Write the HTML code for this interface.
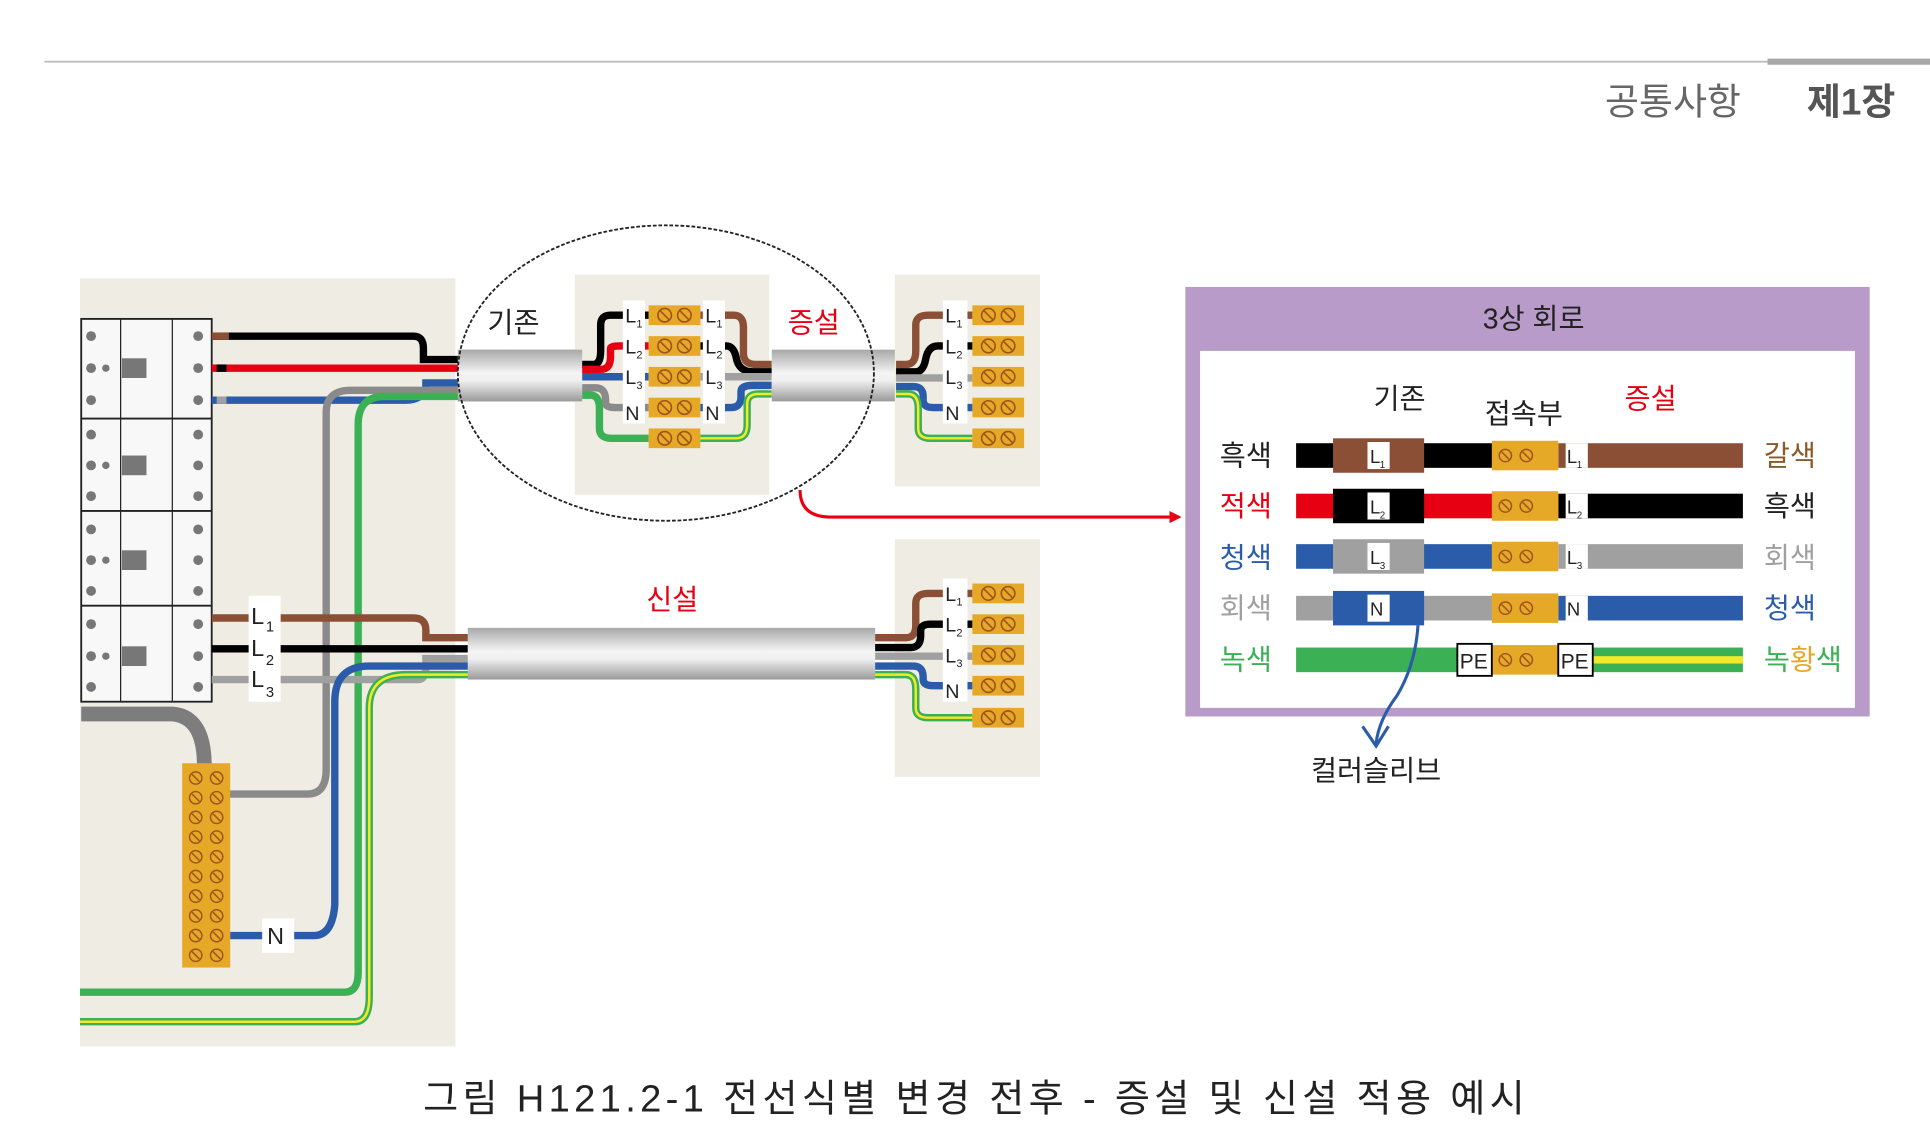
<!DOCTYPE html>
<html><head><meta charset="utf-8">
<style>
html,body{margin:0;padding:0;background:#fff;}
svg{display:block}
text{font-family:"Liberation Sans","Noto Sans CJK KR","Noto Sans CJK SC",sans-serif;}
</style></head><body>
<svg width="1930" height="1140" viewBox="0 0 1568 926" xmlns="http://www.w3.org/2000/svg">
<defs>
<g id="t"><rect x="0" y="0" width="42" height="16" fill="#e6a927"/>
<circle cx="13" cy="8" r="5.5" fill="none" stroke="#a0521d" stroke-width="1.3"/><line x1="9.5" y1="4.5" x2="16.5" y2="11.5" stroke="#a0521d" stroke-width="1.3"/>
<circle cx="29" cy="8" r="5.5" fill="none" stroke="#a0521d" stroke-width="1.3"/><line x1="25.5" y1="4.5" x2="32.5" y2="11.5" stroke="#a0521d" stroke-width="1.3"/></g>
<g id="ts"><circle cx="7" cy="7" r="5" fill="none" stroke="#a0521d" stroke-width="1.2"/><line x1="4" y1="4" x2="10" y2="10" stroke="#a0521d" stroke-width="1.2"/>
<circle cx="24" cy="7" r="5" fill="none" stroke="#a0521d" stroke-width="1.2"/><line x1="21" y1="4" x2="27" y2="10" stroke="#a0521d" stroke-width="1.2"/></g>
<linearGradient id="cab" x1="0" y1="0" x2="0" y2="1">
<stop offset="0" stop-color="#a8a8a8"/><stop offset="0.45" stop-color="#f4f4f4"/><stop offset="0.6" stop-color="#f0f0f0"/><stop offset="1" stop-color="#9a9a9a"/></linearGradient>
<marker id="ar" markerWidth="10" markerHeight="10" refX="8" refY="5" orient="auto" markerUnits="userSpaceOnUse"><path d="M0,0 L10,5 L0,10 z" fill="#e60012"/></marker>
</defs>

<!-- header -->
<line x1="36" y1="50" x2="1436" y2="50" stroke="#bdbdbd" stroke-width="1.5"/>
<line x1="1436" y1="50" x2="1568" y2="50" stroke="#a8a8a8" stroke-width="5"/>
<text x="1304" y="93" font-size="30" fill="#666">공통사항</text>
<text x="1468" y="93" font-size="30" font-weight="bold" fill="#555">제1장</text>

<!-- left panel -->
<rect x="65" y="226" width="305" height="624" fill="#efece3"/>
<!-- breaker -->
<rect x="66" y="259" width="106" height="311" fill="#f8f8f8" stroke="#222" stroke-width="1.5"/>
<g stroke="#222" stroke-width="1"><line x1="98" y1="259" x2="98" y2="570"/><line x1="140" y1="259" x2="140" y2="570"/>
<line x1="66" y1="340" x2="172" y2="340" stroke-width="1.5"/><line x1="66" y1="415" x2="172" y2="415" stroke-width="1.5"/><line x1="66" y1="492" x2="172" y2="492" stroke-width="1.5"/></g>
<g fill="#777">
<circle cx="74" cy="273" r="4"/><circle cx="74" cy="299" r="4"/><circle cx="86" cy="299" r="3"/><circle cx="74" cy="325" r="4"/><rect x="99" y="291" width="20" height="16"/><circle cx="161" cy="273" r="4"/><circle cx="161" cy="299" r="4"/><circle cx="161" cy="325" r="4"/>
<circle cx="74" cy="353" r="4"/><circle cx="74" cy="378" r="4"/><circle cx="86" cy="378" r="3"/><circle cx="74" cy="403" r="4"/><rect x="99" y="370" width="20" height="16"/><circle cx="161" cy="353" r="4"/><circle cx="161" cy="378" r="4"/><circle cx="161" cy="403" r="4"/>
<circle cx="74" cy="430" r="4"/><circle cx="74" cy="455" r="4"/><circle cx="86" cy="455" r="3"/><circle cx="74" cy="480" r="4"/><rect x="99" y="447" width="20" height="16"/><circle cx="161" cy="430" r="4"/><circle cx="161" cy="455" r="4"/><circle cx="161" cy="480" r="4"/>
<circle cx="74" cy="507" r="4"/><circle cx="74" cy="533" r="4"/><circle cx="86" cy="533" r="3"/><circle cx="74" cy="558" r="4"/><rect x="99" y="525" width="20" height="16"/><circle cx="161" cy="507" r="4"/><circle cx="161" cy="533" r="4"/><circle cx="161" cy="558" r="4"/>
</g>
<path d="M66,580 H140 Q166,582 166,622" fill="none" stroke="#7d7d7d" stroke-width="12"/>

<g fill="none" stroke-width="6">
<path d="M172,273 H336 Q344,273 344,283 V292 H374" stroke="#000"/>
<path d="M172,299 H374" stroke="#e60012"/>
<path d="M172,325 H330 Q342,325 346,316 V311 H374" stroke="#2a5caa"/>
<path d="M182,645 H250 Q265,645 265,625 V335 Q265,317 285,317 H374" stroke="#8a8a8a"/>
<path d="M65,806 H280 Q291,806 291,790 V345 Q291,322 312,322 H374" stroke="#3cb054"/>
</g>
<rect x="172" y="270" width="14" height="6" fill="#8b4f36"/>
<rect x="176" y="296" width="8" height="6" fill="#000"/>
<rect x="176" y="322" width="8" height="6" fill="#a0a0a0"/>

<g fill="none" stroke-width="6">
<path d="M172,502 H336 Q346,502 346,512 V518 H382" stroke="#8b4f36"/>
<path d="M172,527 H382" stroke="#000"/>
<path d="M172,552 H340 Q346,552 346,540 V535 H382" stroke="#a0a0a0"/>
<path d="M187,760 H255 Q270,760 272,735 V570 Q272,541 300,541 H382" stroke="#2a5caa"/>
<path d="M65,830 H288 Q300,830 300,810 V575 Q300,548 330,548 H382" stroke="#3cb054"/>
<path d="M65,830 H288 Q300,830 300,810 V575 Q300,548 330,548 H382" stroke="#f2e92a" stroke-width="2"/>
</g>
<g font-size="19" fill="#222">
<rect x="202" y="484" width="26" height="86" fill="#fff"/>
<text x="204" y="507">L</text><text x="216" y="513" font-size="12">1</text>
<text x="204" y="533">L</text><text x="216" y="540" font-size="12">2</text>
<text x="204" y="558">L</text><text x="216" y="566" font-size="12">3</text>
<rect x="213" y="746" width="26" height="28" fill="#fff"/><text x="217" y="767">N</text>
</g>
<rect x="148" y="620" width="39" height="166" fill="#e6a927"/>
<use href="#ts" x="152" y="625"/><use href="#ts" x="152" y="641"/><use href="#ts" x="152" y="657"/><use href="#ts" x="152" y="673"/><use href="#ts" x="152" y="689"/>
<use href="#ts" x="152" y="705"/><use href="#ts" x="152" y="721"/><use href="#ts" x="152" y="737"/><use href="#ts" x="152" y="753"/><use href="#ts" x="152" y="769"/>

<rect x="372" y="284" width="101" height="42" fill="url(#cab)"/>
<text x="396" y="270" font-size="23" fill="#222">기존</text>

<rect x="467" y="223" width="158" height="179" fill="#efece3"/>
<rect x="372" y="284" width="101" height="42" fill="url(#cab)"/>
<g fill="none" stroke-width="6">
<path d="M473,296 H482 Q488,296 488,285 V264 Q488,256 496,256 H527" stroke="#000"/>
<path d="M473,300 H488 Q496,300 496,290 V283 Q496,281 504,281 H527" stroke="#e60012"/>
<path d="M473,306 H527" stroke="#2a5caa"/>
<path d="M473,315 H484 Q492,315 492,325 V327 Q492,331 500,331 H527" stroke="#8a8a8a"/>
<path d="M473,321 H480 Q487,321 487,332 V348 Q487,356 497,356 H527" stroke="#3cb054"/>
<path d="M569,256 H596 Q604,256 604,266 V287 Q604,296 614,296 H627" stroke="#8b4f36"/>
<path d="M569,281 H590 Q596,281 598,290 Q600,302 612,302 H627" stroke="#000"/>
<path d="M569,306 H627" stroke="#a0a0a0"/>
<path d="M569,331 H594 Q602,331 602,322 V318 Q602,313 612,313 H627" stroke="#2a5caa"/>
<path d="M569,356 H598 Q607,356 607,345 V328 Q607,320 616,320 H627" stroke="#3cb054"/>
<path d="M569,356 H598 Q607,356 607,345 V328 Q607,320 616,320 H627" stroke="#f2e92a" stroke-width="2"/>
</g>
<g font-size="16" fill="#222">
<rect x="506" y="244" width="18" height="100" fill="#fff"/>
<rect x="571" y="244" width="18" height="100" fill="#fff"/>
<text x="508" y="262">L</text><text x="517" y="266" font-size="9">1</text>
<text x="508" y="287">L</text><text x="517" y="291" font-size="9">2</text>
<text x="508" y="312">L</text><text x="517" y="316" font-size="9">3</text>
<text x="508" y="341">N</text>
<text x="573" y="262">L</text><text x="582" y="266" font-size="9">1</text>
<text x="573" y="287">L</text><text x="582" y="291" font-size="9">2</text>
<text x="573" y="312">L</text><text x="582" y="316" font-size="9">3</text>
<text x="573" y="341">N</text>
</g>
<use href="#t" x="527" y="248"/><use href="#t" x="527" y="273"/><use href="#t" x="527" y="298"/><use href="#t" x="527" y="323"/><use href="#t" x="527" y="348"/>

<rect x="627" y="284" width="101" height="42" fill="url(#cab)"/>
<text x="640" y="270" font-size="23" fill="#e60012">증설</text>

<rect x="727" y="223" width="118" height="172" fill="#efece3"/>
<g fill="none" stroke-width="6">
<path d="M728,296 H736 Q744,296 744,285 V264 Q744,256 754,256 H790" stroke="#8b4f36"/>
<path d="M728,302 H744 Q750,302 752,292 Q754,281 762,281 H790" stroke="#000"/>
<path d="M728,307 H790" stroke="#a0a0a0"/>
<path d="M728,314 H742 Q750,314 750,322 V325 Q750,331 758,331 H790" stroke="#2a5caa"/>
<path d="M728,320 H738 Q746,320 746,332 V348 Q746,356 756,356 H790" stroke="#3cb054"/>
<path d="M728,320 H738 Q746,320 746,332 V348 Q746,356 756,356 H790" stroke="#f2e92a" stroke-width="2"/>
</g>
<g font-size="16" fill="#222">
<rect x="766" y="244" width="20" height="100" fill="#fff"/>
<text x="768" y="262">L</text><text x="777" y="266" font-size="9">1</text>
<text x="768" y="287">L</text><text x="777" y="291" font-size="9">2</text>
<text x="768" y="312">L</text><text x="777" y="316" font-size="9">3</text>
<text x="768" y="341">N</text>
</g>
<use href="#t" x="790" y="248"/><use href="#t" x="790" y="273"/><use href="#t" x="790" y="298"/><use href="#t" x="790" y="323"/><use href="#t" x="790" y="348"/>

<ellipse cx="541" cy="303" rx="169" ry="120" fill="none" stroke="#222" stroke-width="1.5" stroke-dasharray="3,1.5"/>
<path d="M650,398 Q650,420 675,420 H958" fill="none" stroke="#e60012" stroke-width="2.5" marker-end="url(#ar)"/>

<rect x="380" y="510" width="331" height="42" fill="url(#cab)"/>
<text x="525" y="495" font-size="23" fill="#e60012">신설</text>

<rect x="727" y="438" width="118" height="193" fill="#efece3"/>
<g fill="none" stroke-width="6">
<path d="M711,518 H736 Q744,518 744,508 V490 Q744,482 754,482 H790" stroke="#8b4f36"/>
<path d="M711,526 H740 Q748,526 748,516 V512 Q748,507 756,507 H790" stroke="#000"/>
<path d="M711,533 H790" stroke="#a0a0a0"/>
<path d="M711,541 H742 Q750,541 750,550 V552 Q750,557 758,557 H790" stroke="#2a5caa"/>
<path d="M711,548 H736 Q744,548 744,560 V575 Q744,583 754,583 H790" stroke="#3cb054"/>
<path d="M711,548 H736 Q744,548 744,560 V575 Q744,583 754,583 H790" stroke="#f2e92a" stroke-width="2"/>
</g>
<g font-size="16" fill="#222">
<rect x="766" y="470" width="20" height="100" fill="#fff"/>
<text x="768" y="488">L</text><text x="777" y="492" font-size="9">1</text>
<text x="768" y="513">L</text><text x="777" y="517" font-size="9">2</text>
<text x="768" y="538">L</text><text x="777" y="542" font-size="9">3</text>
<text x="768" y="567">N</text>
</g>
<use href="#t" x="790" y="474"/><use href="#t" x="790" y="499"/><use href="#t" x="790" y="524"/><use href="#t" x="790" y="549"/><use href="#t" x="790" y="575"/>

<rect x="963" y="233" width="556" height="349" fill="#b99bc9"/>
<rect x="975" y="285" width="532" height="290" fill="#fff"/>
<text x="1246" y="267" font-size="23" fill="#222" text-anchor="middle">3상 회로</text>
<text x="1137" y="332" font-size="23" fill="#222" text-anchor="middle">기존</text>
<text x="1238" y="344" font-size="23" fill="#222" text-anchor="middle">접속부</text>
<text x="1341" y="332" font-size="23" fill="#e60012" text-anchor="middle">증설</text>

<g font-size="23">
<text x="991" y="378" fill="#222">흑색</text>
<text x="991" y="419" fill="#e60012">적색</text>
<text x="991" y="461" fill="#2a5caa">청색</text>
<text x="991" y="502" fill="#a0a0a0">회색</text>
<text x="991" y="544" fill="#3cb054">녹색</text>
<text x="1433" y="378" fill="#8b5a2b">갈색</text>
<text x="1433" y="419" fill="#222">흑색</text>
<text x="1433" y="461" fill="#a0a0a0">회색</text>
<text x="1433" y="502" fill="#2a5caa">청색</text>
<text x="1433" y="544" fill="#3cb054">녹<tspan fill="#e6a927">황</tspan>색</text>
</g>
<rect x="1053" y="360" width="160" height="20" fill="#000"/><rect x="1083" y="356" width="74" height="28" fill="#8b4f36"/>
<rect x="1266" y="360" width="150" height="20" fill="#8b4f36"/>
<rect x="1053" y="401" width="160" height="20" fill="#e60012"/><rect x="1083" y="397" width="74" height="28" fill="#000"/>
<rect x="1266" y="401" width="150" height="20" fill="#000"/>
<rect x="1053" y="442" width="160" height="20" fill="#2a5caa"/><rect x="1083" y="438" width="74" height="28" fill="#a0a0a0"/>
<rect x="1266" y="442" width="150" height="20" fill="#a0a0a0"/>
<rect x="1053" y="484" width="160" height="20" fill="#a0a0a0"/><rect x="1083" y="480" width="74" height="28" fill="#2a5caa"/>
<rect x="1266" y="484" width="150" height="20" fill="#2a5caa"/>
<rect x="1053" y="526" width="160" height="20" fill="#3cb054"/>
<rect x="1266" y="526" width="150" height="20" fill="#3cb054"/><rect x="1266" y="533" width="150" height="6" fill="#f2e92a"/>
<g font-size="15" fill="#222">
<rect x="1111" y="359" width="18" height="22" fill="#fff"/><text x="1113" y="376">L</text><text x="1121" y="380" font-size="8">1</text>
<rect x="1111" y="400" width="18" height="22" fill="#fff"/><text x="1113" y="417">L</text><text x="1121" y="421" font-size="8">2</text>
<rect x="1111" y="441" width="18" height="22" fill="#fff"/><text x="1113" y="458">L</text><text x="1121" y="462" font-size="8">3</text>
<rect x="1111" y="483" width="18" height="22" fill="#fff"/><text x="1113" y="500">N</text>
<rect x="1272" y="360" width="18" height="20" fill="#fff"/><text x="1273" y="376">L</text><text x="1281" y="380" font-size="8">1</text>
<rect x="1272" y="401" width="18" height="20" fill="#fff"/><text x="1273" y="417">L</text><text x="1281" y="421" font-size="8">2</text>
<rect x="1272" y="442" width="18" height="20" fill="#fff"/><text x="1273" y="458">L</text><text x="1281" y="462" font-size="8">3</text>
<rect x="1272" y="484" width="18" height="20" fill="#fff"/><text x="1273" y="500">N</text>
</g>
<rect x="1212" y="358" width="54" height="24" fill="#e6a927"/><use href="#ts" x="1216" y="363"/>
<rect x="1212" y="399" width="54" height="24" fill="#e6a927"/><use href="#ts" x="1216" y="404"/>
<rect x="1212" y="440" width="54" height="24" fill="#e6a927"/><use href="#ts" x="1216" y="445"/>
<rect x="1212" y="482" width="54" height="24" fill="#e6a927"/><use href="#ts" x="1216" y="487"/>
<rect x="1212" y="524" width="54" height="24" fill="#e6a927"/><use href="#ts" x="1216" y="529"/>
<rect x="1184" y="523" width="28" height="26" fill="#fff" stroke="#000" stroke-width="1.5"/><text x="1186" y="543" font-size="17" fill="#222">PE</text>
<rect x="1266" y="523" width="28" height="26" fill="#fff" stroke="#000" stroke-width="1.5"/><text x="1268" y="543" font-size="17" fill="#222">PE</text>
<path d="M1152,508 Q1150,540 1135,565 Q1120,585 1118,604" fill="none" stroke="#2a5caa" stroke-width="2.5"/>
<path d="M1107,590 L1118,606 L1128,590" fill="none" stroke="#2a5caa" stroke-width="2.5"/>
<text x="1118" y="634" font-size="23" fill="#222" text-anchor="middle">컬러슬리브</text>

<text x="793" y="903" font-size="31" fill="#222" text-anchor="middle" font-family="'Liberation Serif','Noto Serif CJK SC',serif" letter-spacing="3.5">그림 H121.2-1 전선식별 변경 전후 - 증설 및 신설 적용 예시</text>
</svg>
</body></html>
